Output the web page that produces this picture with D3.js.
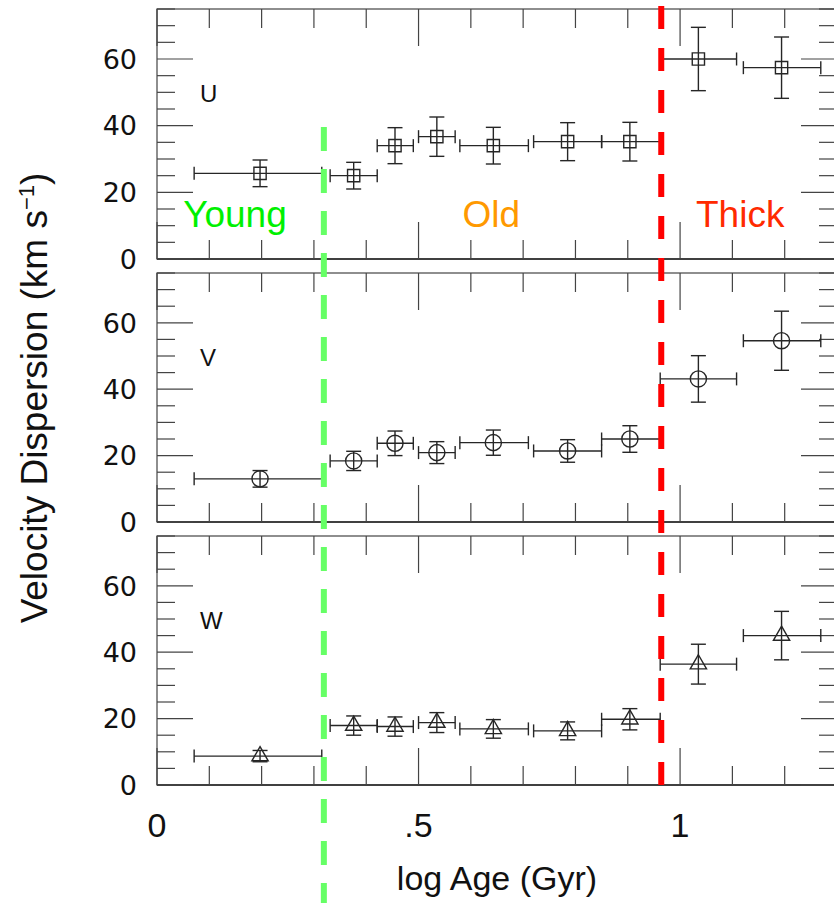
<!DOCTYPE html>
<html><head><meta charset="utf-8">
<script src="https://cdn.jsdelivr.net/npm/d3@7"></script>
<style>html,body{margin:0;padding:0;background:#fff;overflow:hidden}</style>
</head><body><svg id="c" width="834" height="903"></svg>
<script>
// ---- data ----
const ageMid = [0.197, 0.376, 0.455, 0.535, 0.643, 0.785, 0.904, 1.035, 1.194];
const ageLo  = [0.071, 0.331, 0.421, 0.500, 0.579, 0.720, 0.850, 0.962, 1.121];
const ageHi  = [0.315, 0.421, 0.490, 0.570, 0.710, 0.850, 0.962, 1.108, 1.269];
const U    = [25.7, 25.0, 34.0, 36.7, 34.0, 35.2, 35.2, 60.0, 57.4];
const Uerr = [4.0, 4.0, 5.4, 5.9, 5.5, 5.7, 5.8, 9.5, 9.2];
const V    = [13.0, 18.4, 23.7, 20.9, 23.9, 21.4, 25.0, 43.1, 54.6];
const Verr = [2.5, 2.9, 3.7, 3.3, 3.8, 3.4, 4.0, 7.0, 8.9];
const W    = [8.7, 17.9, 17.6, 18.8, 16.9, 16.3, 19.8, 36.4, 45.0];
const Werr = [1.7, 2.9, 2.9, 3.0, 2.8, 2.7, 3.2, 6.0, 7.3];
const panelNames = ["U", "V", "W"];
const yTickLabels = [0, 20, 40, 60];
const xTickLabels = [{v: 0, t: "0"}, {v: 0.5, t: ".5"}, {v: 1, t: "1"}];
const boundaries = [0.319, 0.964];           // Young/Old and Old/Thick
const regionLabels = [{t: "Young", x: 0.149}, {t: "Old", x: 0.639}, {t: "Thick", x: 1.115}];
const regionLabelY = 9.5;                     // value in U panel

// ---- layout ----
const svg = d3.select("#c");
const x = d3.scaleLinear().domain([0, 1.3]).range([157, 837]);
const panels = [{top: 9, bot: 259}, {top: 273, bot: 522}, {top: 536, bot: 785}];
const series = [
  {v: U, e: Uerr, sym: d3.symbolSquare, size: 150},
  {v: V, e: Verr, sym: d3.symbolCircle, size: 205},
  {v: W, e: Werr, sym: d3.symbolTriangle, size: 115}
];
const ink = "#262626";
const ys = panels.map(p => d3.scaleLinear().domain([0, 75]).range([p.bot, p.top]));

panels.forEach((p, i) => {
  const y = ys[i];
  const g = svg.append("g");
  // frame
  g.append("rect").attr("x", x(0)).attr("y", p.top).attr("width", x(1.3) - x(0)).attr("height", p.bot - p.top)
    .attr("fill", "none").attr("stroke", "#444").attr("stroke-width", 1.2);
  g.append("line").attr("x1", x(0)).attr("x2", x(1.3)).attr("y1", p.bot).attr("y2", p.bot)
    .attr("stroke", ink).attr("stroke-width", 1.6);
  // x ticks (inward, top and bottom)
  const xt = d3.range(0, 14).map(k => k / 10);
  xt.forEach(v => {
    const major = Math.abs(v * 2 - Math.round(v * 2)) < 1e-6;
    const len = major ? 37 : 19;
    g.append("line").attr("x1", x(v)).attr("x2", x(v)).attr("y1", p.bot).attr("y2", p.bot - len)
      .attr("stroke", "#444").attr("stroke-width", 1.2);
    g.append("line").attr("x1", x(v)).attr("x2", x(v)).attr("y1", p.top).attr("y2", p.top + len)
      .attr("stroke", "#444").attr("stroke-width", 1.2);
  });
  // y ticks (inward, left and right)
  d3.range(0, 76, 5).forEach(v => {
    const len = v % 20 === 0 ? 36 : 18;
    g.append("line").attr("x1", x(0)).attr("x2", x(0) + len).attr("y1", y(v)).attr("y2", y(v))
      .attr("stroke", "#444").attr("stroke-width", 1.2);
    g.append("line").attr("x1", x(1.3)).attr("x2", x(1.3) - len).attr("y1", y(v)).attr("y2", y(v))
      .attr("stroke", "#444").attr("stroke-width", 1.2);
  });
  // y tick labels
  yTickLabels.forEach(v => {
    g.append("text").attr("x", 137).attr("y", y(v)).attr("dy", "0.36em").attr("text-anchor", "end")
      .attr("font-family", "DejaVu Sans, sans-serif").attr("font-size", 27).attr("fill", "#111").text(v);
  });
  // panel name
  g.append("text").attr("x", 200).attr("y", y(47)).attr("font-family", "Liberation Sans, Arial, sans-serif")
    .attr("font-size", 24).attr("fill", "#111").text(panelNames[i]);

  // data
  const s = series[i];
  const pts = ageMid.map((a, k) => ({a, lo: ageLo[k], hi: ageHi[k], v: s.v[k], e: s.e[k]}));
  const eg = g.append("g").attr("stroke", ink).attr("stroke-width", 1.4).attr("fill", "none");
  pts.forEach(d => {
    const cx = x(d.a), cy = y(d.v);
    eg.append("line").attr("x1", x(d.lo)).attr("x2", x(d.hi)).attr("y1", cy).attr("y2", cy);
    eg.append("line").attr("x1", x(d.lo)).attr("x2", x(d.lo)).attr("y1", cy - 6.5).attr("y2", cy + 6.5);
    eg.append("line").attr("x1", x(d.hi)).attr("x2", x(d.hi)).attr("y1", cy - 6.5).attr("y2", cy + 6.5);
    eg.append("line").attr("x1", cx).attr("x2", cx).attr("y1", y(d.v - d.e)).attr("y2", y(d.v + d.e));
    eg.append("line").attr("x1", cx - 7.5).attr("x2", cx + 7.5).attr("y1", y(d.v - d.e)).attr("y2", y(d.v - d.e));
    eg.append("line").attr("x1", cx - 7.5).attr("x2", cx + 7.5).attr("y1", y(d.v + d.e)).attr("y2", y(d.v + d.e));
    eg.append("path").attr("d", d3.symbol().type(s.sym).size(s.size)())
      .attr("transform", `translate(${cx},${cy})`);
  });
});

// region labels in the U panel
const regionColors = ["#00f000", "#ff9900", "#ff2a00"];
regionLabels.forEach((r, i) => {
  svg.append("text").attr("x", x(r.x)).attr("y", ys[0](regionLabelY)).attr("text-anchor", "middle")
    .attr("font-family", "Liberation Sans, Arial, sans-serif").attr("font-size", 37)
    .attr("fill", regionColors[i]).text(r.t);
});

// boundary dashed lines
svg.append("line").attr("x1", x(boundaries[0])).attr("x2", x(boundaries[0]))
  .attr("y1", ys[0](39.6)).attr("y2", 903)
  .attr("stroke", "#66ff66").attr("stroke-width", 6).attr("stroke-dasharray", "24,18");
svg.append("line").attr("x1", x(boundaries[1])).attr("x2", x(boundaries[1]))
  .attr("y1", 6).attr("y2", panels[2].bot)
  .attr("stroke", "#ff0000").attr("stroke-width", 6).attr("stroke-dasharray", "23,19");

// x tick labels
xTickLabels.forEach(d => {
  svg.append("text").attr("x", x(d.v)).attr("y", 837).attr("text-anchor", "middle")
    .attr("font-family", "Liberation Sans, Arial, sans-serif").attr("font-size", 34).attr("fill", "#111").text(d.t);
});
// axis titles
svg.append("text").attr("x", 497).attr("y", 890).attr("text-anchor", "middle")
  .attr("font-family", "Liberation Sans, Arial, sans-serif").attr("font-size", 34).attr("fill", "#111")
  .text("log Age (Gyr)");
const yt = svg.append("text").attr("transform", "translate(47,398) rotate(-90)").attr("text-anchor", "middle")
  .attr("font-family", "Liberation Sans, Arial, sans-serif").attr("font-size", 37).attr("fill", "#111");
yt.append("tspan").text("Velocity Dispersion (km s");
yt.append("tspan").attr("dy", -13).attr("font-size", 22).text("−1");
yt.append("tspan").attr("dy", 13).text(")");
</script></body></html>
